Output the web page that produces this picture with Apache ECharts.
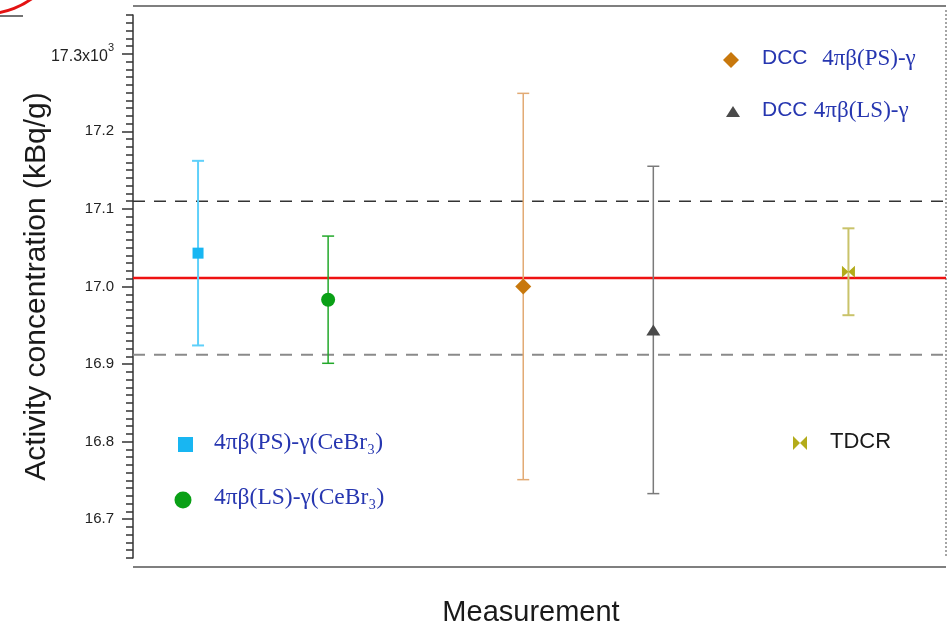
<!DOCTYPE html>
<html>
<head>
<meta charset="utf-8">
<script src="https://cdn.jsdelivr.net/npm/echarts@6/dist/echarts.min.js"></script>
<style>
  html, body { margin: 0; padding: 0; background: #fff; }
  #chart { width: 948px; height: 623px; }
</style>
</head>
<body>
<div id="chart"></div>
<script>
// Measurements of activity concentration with their standard uncertainties
const measurements = ['4πβ(PS)-γ(CeBr₃)', '4πβ(LS)-γ(CeBr₃)', 'DCC  4πβ(PS)-γ', 'DCC 4πβ(LS)-γ', 'TDCR'];
const xPositions = [0.8, 2.4, 4.8, 6.4, 8.8];
const activity = [17.043, 16.983, 17.000, 16.944, 17.019];
const uncertainty = [0.119, 0.082, 0.249, 0.211, 0.056];

// Reference (mean) value and its uncertainty band
const referenceValue = 17.011;
const referenceUnc = 0.099;

// Y axis scale and ticks (values in 10^3 kBq/g)
const yMin = 16.65;
const yMax = 17.35;
const majorTicks = [16.7, 16.8, 16.9, 17.0, 17.1, 17.2, 17.3];
const minorTicks = [];
for (let k = 0; k <= 70; k++) minorTicks.push(+(16.65 + k * 0.01).toFixed(2));

// Marker appearance per measurement
const markStyles = [
  { symbol: 'rect', size: 11, color: '#18b6f2', bar: '#5fd0fa', barWidth: 2 },
  { symbol: 'circle', size: 14, color: '#0aa016', bar: '#22a82a', barWidth: 1.5 },
  { symbol: 'diamond', size: [16, 16], color: '#c8780c', bar: '#e2aa74', barWidth: 1.5 },
  { symbol: 'triangle', size: [14, 11], color: '#4a4a4a', bar: '#7a7a7a', barWidth: 1.5 },
  { symbol: 'path://M0,0 L10,5 L0,10 Z M20,0 L10,5 L20,10 Z', size: [13, 12], color: '#b3ab1a', bar: '#c9c36a', barWidth: 2 }
];

const chart = echarts.init(document.getElementById('chart'));

const scatterSeries = measurements.map((name, i) => ({
  name: name,
  type: 'scatter',
  xAxisIndex: 0,
  yAxisIndex: 0,
  symbol: markStyles[i].symbol,
  symbolSize: markStyles[i].size,
  itemStyle: { color: markStyles[i].color, opacity: 1 },
  data: [[xPositions[i], activity[i]]],
  z: 5,
  silent: true
}));

const errorData = measurements.map((name, i) => [xPositions[i], activity[i], uncertainty[i], i]);

const errorSeries = {
  type: 'custom',
  xAxisIndex: 0,
  yAxisIndex: 0,
  data: errorData,
  z: 3,
  silent: true,
  renderItem: function (params, api) {
    const x = api.value(0), y = api.value(1), e = api.value(2), idx = api.value(3);
    const top = api.coord([x, y + e]);
    const bot = api.coord([x, y - e]);
    const hw = 6;
    const st = { stroke: markStyles[idx].bar, lineWidth: markStyles[idx].barWidth };
    return {
      type: 'group',
      children: [
        { type: 'line', shape: { x1: top[0], y1: top[1], x2: bot[0], y2: bot[1] }, style: st },
        { type: 'line', shape: { x1: top[0] - hw, y1: top[1], x2: top[0] + hw, y2: top[1] }, style: st },
        { type: 'line', shape: { x1: bot[0] - hw, y1: bot[1], x2: bot[0] + hw, y2: bot[1] }, style: st }
      ]
    };
  }
};

function refLine(value, color, width, dash) {
  return {
    type: 'line',
    xAxisIndex: 0,
    yAxisIndex: 0,
    data: [[0, value], [10, value]],
    showSymbol: false,
    silent: true,
    z: 2,
    lineStyle: { color: color, width: width, type: dash || 'solid' }
  };
}

const blue = '#2636b0';
const sans = 'Liberation Sans, Arial, sans-serif';
const serif = 'Liberation Serif, Times New Roman, serif';

const richUpper = {
  s: { fontFamily: sans, fontSize: 21, fill: blue },
  t: { fontFamily: serif, fontSize: 23, fill: blue }
};
const richLower = {
  t: { fontFamily: serif, fontSize: 23.5, fill: blue }
};

const option = {
  animation: false,
  backgroundColor: '#ffffff',
  grid: { left: 133, right: 2, top: 15, bottom: 65, containLabel: false, outerBoundsMode: 'none' },
  xAxis: [{
    type: 'value', min: 0, max: 10,
    show: true,
    axisLine: { show: false }, axisTick: { show: false },
    axisLabel: { show: false }, splitLine: { show: false },
    name: 'Measurement', nameLocation: 'middle', nameGap: 40, nameMoveOverlap: false,
    nameTextStyle: { fontFamily: sans, fontSize: 29, color: '#1a1a1a', padding: [0, 17, 0, 0] }
  }],
  yAxis: [{
    type: 'value', min: yMin, max: yMax, position: 'left',
    axisLine: { show: true, lineStyle: { color: '#333', width: 1.5 } },
    axisTick: { show: true, customValues: majorTicks, length: 11, lineStyle: { color: '#333', width: 1.5 } },
    axisLabel: {
      show: true, customValues: majorTicks, margin: 19,
      fontFamily: sans, fontSize: 15, color: '#222',
      formatter: function (v) {
        const s = v.toFixed(1);
        return Math.abs(v - 17.3) < 1e-6 ? '{a|' + s + 'x10}{sup|3}' : s;
      },
      rich: {
        a: { fontFamily: sans, fontSize: 16, color: '#222', padding: [6, 0, 0, 0] },
        sup: { fontFamily: sans, fontSize: 11, color: '#222', verticalAlign: 'top', padding: [0, 0, 6, 0] }
      }
    },
    splitLine: { show: false },
    name: 'Activity concentration (kBq/g)', nameLocation: 'middle', nameGap: 81, nameRotate: 90,
    nameMoveOverlap: false,
    nameTextStyle: { fontFamily: sans, fontSize: 30, color: '#1a1a1a' }
  }, {
    type: 'value', min: yMin, max: yMax, position: 'left',
    axisLine: { show: false },
    axisTick: { show: true, customValues: minorTicks, length: 7, lineStyle: { color: '#333', width: 1.5 } },
    axisLabel: { show: false },
    splitLine: { show: false }
  }],
  graphic: [
    // plot frame
    { type: 'line', shape: { x1: 133, y1: 6, x2: 946, y2: 6 }, style: { stroke: '#555', lineWidth: 1.5 } },
    { type: 'line', shape: { x1: 133, y1: 567, x2: 946, y2: 567 }, style: { stroke: '#555', lineWidth: 1.5 } },
    { type: 'line', shape: { x1: 946, y1: 10, x2: 946, y2: 557 }, style: { stroke: '#888', lineWidth: 1.5, lineDash: [2, 2] } },
    // corner mark
    { type: 'arc', shape: { cx: -15, cy: -65, r: 79, startAngle: 0, endAngle: Math.PI }, style: { stroke: '#e31212', lineWidth: 3, fill: null } },
    { type: 'line', shape: { x1: 0, y1: 16, x2: 23, y2: 16 }, style: { stroke: '#444', lineWidth: 1.5 } },

    // legend: DCC methods (upper right)
    { type: 'polygon', shape: { points: [[731, 52], [739, 60], [731, 68], [723, 60]] }, style: { fill: '#c8780c' } },
    { type: 'text', left: 762, top: 47, style: { text: '{s|DCC}  {t|4πβ(PS)-γ}', rich: {
      s: richUpper.s, t: Object.assign({}, richUpper.t, { padding: [0, 0, 0, 8] }) } } },
    { type: 'polygon', shape: { points: [[733, 106], [740, 117], [726, 117]] }, style: { fill: '#4a4a4a' } },
    { type: 'text', left: 762, top: 99, style: { text: '{s|DCC} {t|4πβ(LS)-γ}', rich: {
      s: richUpper.s, t: Object.assign({}, richUpper.t, { padding: [0, 0, 0, 3] }) } } },

    // legend: coincidence methods (lower left)
    { type: 'rect', shape: { x: 178, y: 437, width: 15, height: 15 }, style: { fill: '#18b6f2' } },
    { type: 'text', left: 214, top: 431, style: { text: '{t|4πβ(PS)-γ(CeBr₃)}', rich: richLower } },
    { type: 'circle', shape: { cx: 183, cy: 500, r: 8.5 }, style: { fill: '#0aa016' } },
    { type: 'text', left: 214, top: 486, style: { text: '{t|4πβ(LS)-γ(CeBr₃)}', rich: richLower } },

    // legend: TDCR
    { type: 'polygon', shape: { points: [[793, 436], [800, 443], [793, 450]] }, style: { fill: '#b3ab1a' } },
    { type: 'polygon', shape: { points: [[807, 436], [800, 443], [807, 450]] }, style: { fill: '#b3ab1a' } },
    { type: 'text', left: 830, top: 431, style: { text: 'TDCR', fill: '#1a1a1a', fontFamily: sans, fontSize: 22 } }
  ],
  series: [
    refLine(referenceValue + referenceUnc, '#333', 1.5, [12, 9]),
    refLine(referenceValue - referenceUnc, '#8a8a8a', 2, [12, 9]),
    refLine(referenceValue, '#ee1111', 2.5),
    errorSeries
  ].concat(scatterSeries)
};

chart.setOption(option);
</script>
</body>
</html>
